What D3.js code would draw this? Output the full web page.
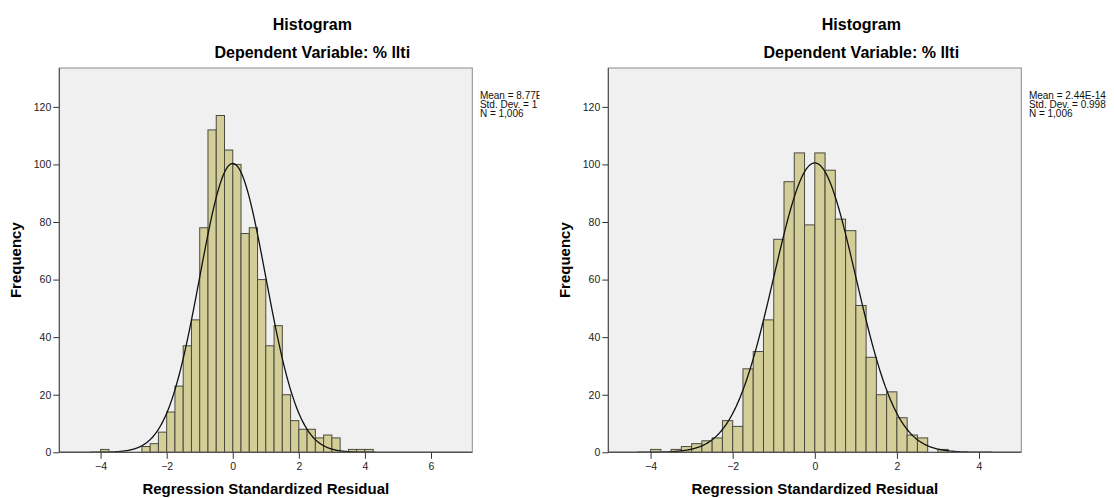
<!DOCTYPE html>
<html>
<head>
<meta charset="utf-8">
<script src="https://cdn.jsdelivr.net/npm/d3@7"></script>
<style>
  body { margin: 0; background: #fff; }
  svg { display: block; font-family: "Liberation Sans", Arial, sans-serif; }
  .tick text { font-size: 10.5px; fill: #222; }
  .tick line { stroke: #333; }
</style>
</head>
<body>
<svg class="chart" width="1114" height="498"></svg>
<script>
// bin lower edges and counts, bins are 0.25 wide
var binWidth = 0.25;
var edgesL = [-4, -2.75, -2.5, -2.25, -2, -1.75, -1.5, -1.25, -1, -0.75, -0.5, -0.25, 0, 0.25, 0.5, 0.75, 1, 1.25, 1.5, 1.75, 2, 2.25, 2.5, 2.75, 3, 3.5, 3.75, 4];
var countsL = [1, 2, 3, 7, 14, 23, 37, 46, 78, 112, 117, 105, 100, 76, 78, 60, 37, 44, 20, 11, 8, 8, 5, 6, 5, 1, 1, 1];
var edgesR = [-4, -3.5, -3.25, -3, -2.75, -2.5, -2.25, -2, -1.75, -1.5, -1.25, -1, -0.75, -0.5, -0.25, 0, 0.25, 0.5, 0.75, 1, 1.25, 1.5, 1.75, 2, 2.25, 2.5, 3];
var countsR = [1, 1, 2, 3, 4, 5, 11, 9, 29, 35, 46, 74, 94, 104, 79, 104, 98, 81, 77, 51, 33, 20, 21, 12, 6, 5, 1];

var xTicksL = [-4, -2, 0, 2, 4, 6];
var xTicksR = [-4, -2, 0, 2, 4];
var yTicks = [0, 20, 40, 60, 80, 100, 120];

var statsL = { mean: 8.77e-15, sd: 1, n: 1006 };
var statsR = { mean: 2.44e-14, sd: 0.998, n: 1006 };
var legendL = ["Mean = 8.77E-15", "Std. Dev. = 1", "N = 1,006"];
var legendR = ["Mean = 2.44E-14", "Std. Dev. = 0.998", "N = 1,006"];

var svg = d3.select("svg.chart");

function drawPanel(id, left, xDomain, edges, counts, xTicks, stats, legend, clipRight) {
    var top = 68, bottom = 452.3, w = 413;
    var x = d3.scaleLinear().domain(xDomain).range([left, left + w]);
    var y = d3.scaleLinear().domain([0, 133.5]).range([bottom, top]);
    var g = svg.append("g");

    svg.append("clipPath").attr("id", "plot" + id)
        .append("rect").attr("x", left).attr("y", top).attr("width", w).attr("height", bottom - top);

    g.append("rect")
        .attr("x", left).attr("y", top).attr("width", w).attr("height", bottom - top)
        .attr("fill", "#f0f0f0");

    g.selectAll(".bar")
        .data(edges)
        .enter().append("rect")
        .attr("class", "bar")
        .attr("x", function (d) { return x(d); })
        .attr("width", function (d) { return x(d + binWidth) - x(d); })
        .attr("y", function (d, i) { return y(counts[i]); })
        .attr("height", function (d, i) { return y(0) - y(counts[i]); })
        .attr("fill", "#d3ce97")
        .attr("stroke", "#4a4a40")
        .attr("stroke-width", 1);

    // fitted normal curve from the shown mean / std. dev. / N
    var scale = stats.n * binWidth;
    var pts = d3.range(xDomain[0], xDomain[1], 0.02).map(function (v) {
        var z = (v - stats.mean) / stats.sd;
        return [v, scale * Math.exp(-0.5 * z * z) / (stats.sd * Math.sqrt(2 * Math.PI))];
    });
    g.append("path")
        .attr("clip-path", "url(#plot" + id + ")")
        .attr("d", d3.line().x(function (d) { return x(d[0]); }).y(function (d) { return y(d[1]); })(pts))
        .attr("fill", "none")
        .attr("stroke", "#111")
        .attr("stroke-width", 1.3);

    g.append("rect")
        .attr("x", left).attr("y", top).attr("width", w).attr("height", bottom - top)
        .attr("fill", "none").attr("stroke", "#8a8a8a");

    var yAxis = g.append("g").attr("transform", "translate(" + left + ",0)")
        .call(d3.axisLeft(y).tickValues(yTicks).tickSize(6).tickPadding(2));
    yAxis.select(".domain").remove();
    var xAxis = g.append("g").attr("transform", "translate(0," + bottom + ")")
        .call(d3.axisBottom(x).tickValues(xTicks).tickSize(6.5).tickPadding(3.5));
    xAxis.select(".domain").remove();

    g.append("line").attr("x1", left).attr("x2", left).attr("y1", top).attr("y2", bottom).attr("stroke", "#444");
    g.append("line").attr("x1", left).attr("x2", left + w).attr("y1", bottom).attr("y2", bottom).attr("stroke", "#444");

    g.append("text").attr("x", left + 253).attr("y", 30)
        .attr("text-anchor", "middle").style("font-size", "16px").style("font-weight", "bold")
        .text("Histogram");
    g.append("text").attr("x", left + 253).attr("y", 57.5)
        .attr("text-anchor", "middle").style("font-size", "16px").style("font-weight", "bold")
        .text("Dependent Variable: % llti");

    g.append("text").attr("x", left + w / 2).attr("y", 494)
        .attr("text-anchor", "middle").style("font-size", "15px").style("font-weight", "bold")
        .text("Regression Standardized Residual");
    g.append("text")
        .attr("transform", "translate(" + (left - 38) + "," + ((top + bottom) / 2) + ") rotate(-90)")
        .attr("text-anchor", "middle").style("font-size", "15px").style("font-weight", "bold")
        .text("Frequency");

    svg.append("clipPath").attr("id", "leg" + id)
        .append("rect").attr("x", left + w).attr("y", 80).attr("width", clipRight - left - w).attr("height", 50);
    g.append("g").attr("clip-path", "url(#leg" + id + ")")
        .selectAll("text").data(legend).enter().append("text")
        .attr("x", left + w + 7.6)
        .attr("y", function (d, i) { return 99 + i * 9; })
        .style("font-size", "10px")
        .attr("fill", "#111")
        .text(function (d) { return d; });
}

drawPanel("L", 59.3, [-5.25, 7.25], edgesL, countsL, xTicksL, statsL, legendL, 539.5);
drawPanel("R", 608.3, [-5.03, 5.03], edgesR, countsR, xTicksR, statsR, legendR, 1114);
</script>
</body>
</html>
